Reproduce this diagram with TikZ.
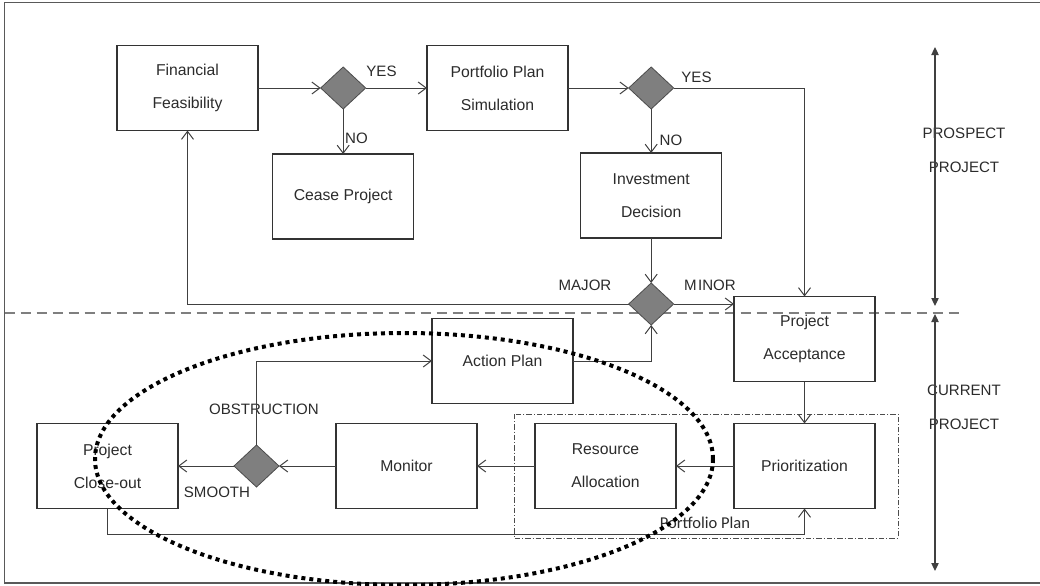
\documentclass[tikz,border=0pt]{standalone}
\usepackage{fontspec}
\setmainfont{Liberation Sans}
\newfontfamily\calfont{Carlito}
\usetikzlibrary{positioning,shapes.geometric,arrows.meta}

\definecolor{linegray}{HTML}{404040}
\definecolor{boxgray}{HTML}{333333}
\definecolor{decgray}{HTML}{7F7F7F}
\definecolor{txtgray}{HTML}{2B2B2B}

\tikzset{
  stage/.style={rectangle, draw=boxgray, line width=0.8pt, minimum width=105.75pt,
    minimum height=63.75pt, inner sep=0pt, outer sep=0pt, align=center, text=txtgray,
    font=\fontsize{11.8}{24.75}\selectfont},
  decision/.style={diamond, draw=decgray!60!black, fill=decgray, line width=0.6pt,
    minimum width=33.75pt, minimum height=31.5pt, inner sep=0pt, outer sep=0pt},
  flow/.style={-{Straight Barb[length=6pt,width=9pt]}, draw=linegray, line width=0.75pt},
  branch/.style={inner sep=0pt, text=txtgray, font=\fontsize{11.3}{13}\selectfont},
  zone/.style={inner sep=0pt, align=center, text=txtgray, font=\fontsize{11.3}{25.5}\selectfont},
  span/.style={{Triangle[length=6pt,width=5.5pt]}-{Triangle[length=6pt,width=5.5pt]},
    draw=black!75, line width=0.9pt},
}

\begin{document}
\begin{tikzpicture}[x=0.75pt, y=-0.75pt]

\useasboundingbox (0,0) rectangle (1040,586);

% Frame and separator
\draw[black!65, line width=1.2pt] (1040,2.5) -- (4.5,2.5) -- (4.5,583) -- (1040,583);
\draw[decgray, line width=1.1pt, dash pattern=on 7.5pt off 4.5pt] (4.5,313) -- (962,313);

% Prospect project
\node[stage] (feasible) at (187.5,88) {Financial\\Feasibility};
\node[decision, right=47pt of feasible] (check1) {};
\node[stage, right=46pt of check1] (simulate) {Portfolio Plan\\Simulation};
\node[stage, below=33.75pt of check1] (cease) {Cease Project};
\node[decision, right=45.5pt of simulate] (check2) {};
\node[stage, below=33pt of check2] (invest) {Investment\\Decision};
\node[decision, below=33.75pt of invest] (check3) {};

% Current project
\node[stage] (accept) at (804.5,339) {Project\\Acceptance};
\node[stage] (action) at (502.5,361) {Action Plan};
\node[stage, below=31.5pt of accept] (prior) {Prioritization};
\node[stage, left=43.5pt of prior] (resource) {Resource\\Allocation};
\node[stage, left=43.5pt of resource] (monitor) {Monitor};
\node[decision, left=42.75pt of monitor] (check4) {};
\node[stage, left=42pt of check4] (closeout) {Project\\Close-out};

% Portfolio plan group
\draw[black!70, line width=0.6pt, dash pattern=on 4pt off 1.5pt on 0.8pt off 1.5pt]
  (514,414) rectangle (898,538);
\node[inner sep=0pt, text=txtgray, font=\calfont\fontsize{12.4}{14}\selectfont]
  (grouplabel) at (705,523) {Portfolio Plan};

% Branch labels
\node[branch] (yes1) at (381.5,71) {YES};
\node[branch] (no1) at (356.5,138) {NO};
\node[branch] (yes2) at (696.5,77) {YES};
\node[branch] (no2) at (671,140) {NO};
\node[branch] (major) at (585,285) {MAJOR};
\node[branch] (minor) at (710,285) {M\kern1pt INOR};
\node[branch] (obstruct) at (264,409) {OBSTRUCTION};
\node[branch] (smooth) at (217,492) {SMOOTH};

% Zones
\node[zone] (prospect) at (964,150) {PROSPECT\\PROJECT};
\node[zone] (current) at (964,407) {CURRENT\\PROJECT};
\draw[span] (935,47) -- (935,306);
\draw[span] (935,314) -- (935,571);

% Arrows
\draw[flow] (feasible.east) -- (check1.west);
\draw[flow] (check1.east) -- (simulate.west);
\draw[flow] (check1.south) -- (cease.north);
\draw[flow] (simulate.east) -- (check2.west);
\draw[flow] (check2.south) -- (invest.north);
\draw[flow] (check2.east) -| (accept.north);
\draw[flow] (invest.south) -- (check3.north);
\draw[flow] (check3.east) -- (check3.east -| accept.west);
\draw[flow] (check3.west) -| (feasible.south);
\draw[flow] (action.east) -| (check3.south);
\draw[flow] (accept.south) -- (prior.north);
\draw[flow] (prior.west) -- (resource.east);
\draw[flow] (resource.west) -- (monitor.east);
\draw[flow] (monitor.west) -- (check4.east);
\draw[flow] (check4.west) -- (closeout.east);
\draw[flow] (check4.north) |- (action.west);
\draw[flow] (closeout.south) -- ++(0,26) -| (prior.south);

% Scope ellipse
\draw[black, line width=3pt, dash pattern=on 3pt off 3pt]
  (404,459) ellipse [x radius=231.75pt, y radius=94.5pt];

\end{tikzpicture}
\end{document}
